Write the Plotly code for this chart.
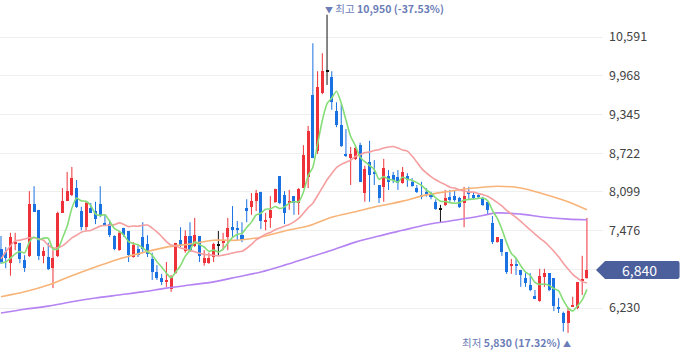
import plotly.graph_objects as go
import pandas as pd

# ---- data ----
opens = [7180,7130,6950,7260,7280,7000,7070,7900,7810,7070,
         7050,6870,7070,7760,7950,8050,8160,7790,7530,7840,
         7790,7900,7600,7580,7390,7160,7520,7470,7050,7180,
         7370,7260,7020,6810,6710,6650,6540,6790,7320,7150,
         7390,7230,7390,6950,6950,7050,7240,7280,7370,7530,
         7520,7400,7840,7860,7950,8100,7610,7680,7940,8350,
         8050,7920,8030,7920,8160,8340,9660,8760,9690,10040,
         9950,9400,9180,8710,8640,8630,8850,8080,8580,8420,
         8210,8180,8350,8370,8340,8240,8350,8260,8160,8050,
         8100,8050,7940,7820,7890,8020,8030,8000,7920,8100,
         8050,8050,8000,7940,7600,7290,7340,7130,6910,6940,
         6840,6710,6600,6420,6340,6730,6790,6710,6250,6150,
         5990,6250,6230,6670,6710]
highs = [7390,7210,7440,7440,7280,7080,8110,8190,7810,7210,
         7280,7160,7780,8160,8420,8500,8290,7860,7950,7920,
         7940,8190,7730,7650,7400,7470,7520,7470,7290,7240,
         7610,7400,7120,6920,6780,6970,6760,7280,7530,7480,
         7610,7680,7390,7160,7120,7280,7470,7440,7680,7870,
         7630,7610,7980,8080,8130,8100,7760,8030,8150,8350,
         8110,8130,8030,8160,8850,9160,10490,10040,10330,10950,
         10040,9540,9510,9110,8820,8840,8890,8520,8920,8610,
         8210,8630,8450,8420,8450,8500,8400,8320,8210,8260,
         8160,8100,7980,7890,8130,8130,8130,8020,8180,8180,
         8080,8060,8020,7940,7710,7370,7340,7130,7020,7040,
         6840,6790,6790,6520,6860,6860,6790,6710,6390,6170,
         6230,6410,6650,7070,7680]
lows = [6940,6870,6750,7160,6950,6810,7050,7780,7000,6950,
        6840,6550,7050,7760,7950,8030,7840,7480,7480,7760,
        7580,7690,7570,7370,7160,7150,7370,6970,7040,7050,
        7130,7050,6680,6680,6600,6570,6490,6780,7210,7120,
        7130,7210,6970,6910,6940,6970,7080,7160,7160,7370,
        7320,7290,7610,7730,7790,7500,7480,7520,7920,7900,
        7580,7810,7730,7730,8160,8160,8640,8710,9670,9820,
        9420,9140,8820,8660,8210,8610,8260,7940,7940,8210,
        7920,7940,8130,8240,8130,8230,8180,8180,8080,7980,
        8020,7980,7810,7610,7870,7940,7940,7840,7530,7970,
        7980,8000,7870,7740,7260,7280,7070,6780,6780,6760,
        6570,6570,6500,6380,6330,6570,6500,6180,6150,5850,
        5830,6250,6210,6440,6700]
closes = [6970,7040,7370,7290,7020,6870,7900,7780,7070,7150,
          6860,7040,7760,7950,8110,8320,7860,7530,7920,7760,
          7660,7730,7580,7400,7180,7440,7400,7080,7240,7080,
          7180,7100,6810,6710,6650,6680,6730,7280,7240,7390,
          7160,7400,7070,7040,7040,7260,7240,7310,7520,7500,
          7500,7320,7790,7950,8080,7630,7650,7810,8150,7920,
          7760,7950,7920,8150,8690,9080,8640,9790,10040,10040,
          9540,9180,8840,8680,8710,8800,8260,8470,8370,8400,
          8000,8480,8260,8290,8240,8420,8290,8190,8100,8020,
          8060,8020,7820,7820,8000,7970,7970,7860,8030,8060,
          8000,8020,7890,7810,7290,7370,7130,6810,6940,6910,
          6760,6630,6520,6390,6750,6790,6520,6260,6210,5990,
          6180,6280,6650,6700,6840]

# moving-average values before enough in-window history
ma5_head = [6950, 6970, 7030, 7100]
ma20_head = [7020, 7130, 7230, 7310, 7320, 7340, 7360, 7360, 7340, 7320,
             7240, 7200, 7200, 7230, 7290, 7360, 7400, 7450, 7470]
# long moving averages read at sample candles
ma_long_idx = [0, 5, 10, 15, 20, 25, 30, 35, 40, 45, 50, 55, 60, 65, 70,
               75, 80, 85, 90, 95, 100, 105, 110, 115, 120, 124]
ma60_vals = [6410, 6490, 6600, 6750, 6890, 7020, 7120, 7210, 7260, 7320,
             7320, 7370, 7470, 7550, 7690, 7780, 7870, 7950, 8050, 8110,
             8160, 8190, 8160, 8060, 7940, 7810]
ma120_vals = [6150, 6210, 6260, 6330, 6390, 6440, 6490, 6550, 6600, 6650,
              6730, 6810, 6920, 7040, 7160, 7290, 7390, 7480, 7570, 7630,
              7690, 7760, 7740, 7690, 7660, 7650]
y_ticks = [6230, 6853, 7476, 8099, 8722, 9345, 9968, 10591]
y_tick_text = ["6,230", "", "7,476", "8,099", "8,722", "9,345", "9,968", "10,591"]
last_price = 6840
high_price, high_idx, high_pct = 10950, 69, "-37.53%"
low_price, low_idx, low_pct = 5830, 120, "17.32%"

# ---- derived ----
n = len(closes)
idx = list(range(n))
s = pd.Series(closes, dtype=float)
ma5 = s.rolling(5).mean().tolist()
ma5[:4] = ma5_head
ma20 = s.rolling(20).mean().tolist()
ma20[:19] = ma20_head

RED, BLUE, BLACK = "#ee3239", "#1a72e2", "#111111"
cols = []
for o, c in zip(opens, closes):
    cols.append(RED if c > o else (BLUE if c < o else BLACK))

fig = go.Figure()

# wicks
for colr in (RED, BLUE, BLACK):
    xs, ys = [], []
    for i in idx:
        if cols[i] == colr:
            xs += [i, i, None]
            ys += [lows[i], highs[i], None]
    fig.add_trace(go.Scatter(x=xs, y=ys, mode="lines",
                             line=dict(color=colr, width=1),
                             hoverinfo="skip", showlegend=False))

# bodies
bases = [min(o, c) for o, c in zip(opens, closes)]
heights = [max(abs(c - o), 18) for o, c in zip(opens, closes)]
fig.add_trace(go.Bar(x=idx, y=heights, base=bases, width=0.64,
                     marker=dict(color=cols, line=dict(width=0)),
                     hoverinfo="skip", showlegend=False))

# moving averages
fig.add_trace(go.Scatter(x=ma_long_idx, y=ma120_vals, mode="lines",
                         line=dict(color="#b583f2", width=1.6, shape="spline", smoothing=0.8),
                         hoverinfo="skip", showlegend=False))
fig.add_trace(go.Scatter(x=ma_long_idx, y=ma60_vals, mode="lines",
                         line=dict(color="#f8b478", width=1.6, shape="spline", smoothing=0.8),
                         hoverinfo="skip", showlegend=False))
fig.add_trace(go.Scatter(x=idx, y=ma20, mode="lines",
                         line=dict(color="#f59ea0", width=1.6, shape="spline", smoothing=0.6),
                         hoverinfo="skip", showlegend=False))
fig.add_trace(go.Scatter(x=idx, y=ma5, mode="lines",
                         line=dict(color="#86dd78", width=1.6, shape="spline", smoothing=0.6),
                         hoverinfo="skip", showlegend=False))

FONT = "Noto Sans CJK KR, Noto Sans, sans-serif"
ANN = "#6b7db7"

# current price tag
half = 145
fig.add_shape(type="path", xref="paper", yref="y",
              path=(f"M 0.9884,{last_price} L 1.0035,{last_price + half} "
                    f"L 1.124,{last_price + half} Q 1.127,{last_price + half} 1.127,{last_price + half - 40} "
                    f"L 1.127,{last_price - half + 40} Q 1.127,{last_price - half} 1.124,{last_price - half} "
                    f"L 1.0035,{last_price - half} Z"),
              fillcolor="#4a5f9c", line=dict(width=0), layer="above")
fig.add_annotation(x=1.061, xref="paper", y=last_price, yref="y",
                   text=f"{last_price:,}", showarrow=False,
                   font=dict(color="white", size=14, family=FONT),
                   xanchor="center", yanchor="middle")

# high / low labels
fig.add_annotation(x=high_idx, y=high_price, xref="x", yref="y",
                   text=f"<span style='font-size:8px'>▼</span> 최고 <b>{high_price:,} ({high_pct})</b>",
                   showarrow=False, xanchor="left", yanchor="middle", xshift=-4, yshift=6,
                   font=dict(color=ANN, size=10.5, family=FONT))
fig.add_annotation(x=low_idx, y=low_price, xref="x", yref="y",
                   text=f"최저 <b>{low_price:,} ({low_pct})</b> <span style='font-size:8px'>▲</span>",
                   showarrow=False, xanchor="right", yanchor="middle", xshift=5, yshift=-10,
                   font=dict(color=ANN, size=10.5, family=FONT))

fig.update_layout(
    width=680, height=358,
    margin=dict(l=0, r=77, t=0, b=0, autoexpand=False),
    paper_bgcolor="white", plot_bgcolor="white",
    showlegend=False, bargap=0, hovermode=False,
    xaxis=dict(visible=False, range=[-0.21, 127.4], fixedrange=True),
    yaxis=dict(side="right", range=[5425.4, 11186.4], fixedrange=True,
               tickvals=y_ticks, ticktext=y_tick_text,
               showgrid=True, gridcolor="#efefef", gridwidth=1,
               zeroline=False, showline=False, ticks="",
               ticklabelstandoff=5,
               tickfont=dict(size=12.5, color="#444", family=FONT)),
)

fig.write_html("out.html", config={"displayModeBar": False},
               post_script="document.body.style.margin='0';document.body.style.overflow='hidden';")
